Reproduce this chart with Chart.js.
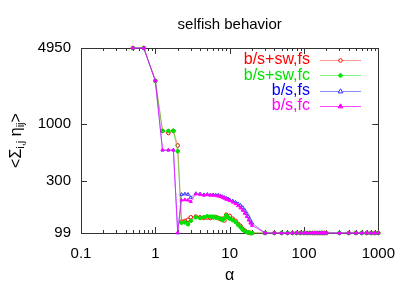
<!DOCTYPE html>
<html><head><meta charset="utf-8">
<script src="https://cdn.jsdelivr.net/npm/chart.js@4/dist/chart.umd.min.js"></script>
<style>html,body{margin:0;padding:0;background:#fff;overflow:hidden}#wrap{width:407px;height:285px;position:relative}</style>
</head><body><div id="wrap"><canvas id="c"></canvas></div>
<script>
const alphaValues = [0.5,0.7,1,1.25,1.5,1.75,2,2.25,2.5,2.75,3,3.5,4,4.5,5,5.5,6,6.5,7,7.5,8,8.5,9,9.5,10,11,12,13,14,15,16,17,18,19,20,30,40,50,60,70,80,90,100,110,120,130,140,150,160,170,180,190,200,300,400,500,600,700,800,900,1000];
const tail = [99,99,99,99,99,99,99,99,99,99,99,99,99,99,99,99,99,99,99,99,99,99,99,99,99,99];
const bsswFs = [4950,4950,2475,858,820,858,630,126,128,131,138,140,138,136,137,136,138,139,136,133,134,129,146,140,142,134,128,120,115,108,104,101,100,99,99].concat(tail);
const bsswFc = [4950,4950,2475,858,858,858,557,123,124,119,128,138,136,138,141,140,140,137,136,134,130,135,144,138,134,130,125,118,112,106,103,101,100,99,99].concat(tail);
const bsFs = [4950,4950,2475,572,572,572,99,224,226,224,210,228,226,222,224,222,222,220,220,218,214,210,207,204,200,195,190,184,178,170,160,150,140,130,122].concat(tail);
const bsFc = [4950,4950,2475,572,572,572,100,198,200,198,192,226,224,220,222,220,220,218,216,214,210,206,202,200,196,190,184,176,168,160,150,140,130,122,116].concat(tail);
const seriesLabels = ['b/s+sw,fs','b/s+sw,fc','b/s,fs','b/s,fc'];
const xTickValues = [0.1,1,10,100,1000];
const yTickValues = [99,300,1000,4950];
const chartTitle = 'selfish behavior';
const xAxisLabel = 'α';

const toPts = arr => alphaValues.map((x,i)=>({x:x,y:arr[i]}));
const seriesStyles = [
  {line:'rgba(255,60,60,0.55)', mark:'#ff0000', text:'#ff0000', style:'circle', fill:'#ffffff', order:3},
  {line:'rgba(0,230,0,0.5)', mark:'#00e000', text:'#00e000', style:'circle', fill:'#00e000', order:2},
  {line:'rgba(60,60,255,0.6)', mark:'#3030ff', text:'#0000ff', style:'triangle', fill:'#ffffff', order:1},
  {line:'rgba(255,0,255,0.7)', mark:'#ff00ff', text:'#ff00ff', style:'triangle', fill:'#ff00ff', order:0}
];
const seriesData = [bsswFs, bsswFc, bsFs, bsFc];
const datasets = seriesData.map((arr,i)=>({
  label: seriesLabels[i], data: toPts(arr),
  borderColor: seriesStyles[i].line, borderWidth: 1,
  pointStyle: seriesStyles[i].style, pointRadius: 1.8,
  pointBorderColor: seriesStyles[i].mark, pointBackgroundColor: seriesStyles[i].fill,
  pointBorderWidth: 1, order: seriesStyles[i].order, tension: 0, clip: false
}));

function drawMarker(ctx, style, x, y, r, stroke, fill){
  ctx.save(); ctx.beginPath();
  if(style==='circle'){ ctx.arc(x,y,r,0,Math.PI*2); }
  else { const s=r*1.5; ctx.moveTo(x,y-s); ctx.lineTo(x+s*0.866,y+s*0.5); ctx.lineTo(x-s*0.866,y+s*0.5); ctx.closePath(); }
  ctx.fillStyle=fill; ctx.fill(); ctx.strokeStyle=stroke; ctx.lineWidth=1; ctx.stroke(); ctx.restore();
}

const decorPlugin = {
  id:'decor',
  beforeDatasetsDraw(chart){
    const ctx = chart.ctx, a = chart.chartArea, xs = chart.scales.x, ys = chart.scales.y;
    ctx.save();
    ctx.strokeStyle='#333'; ctx.lineWidth=1;
    ctx.beginPath();
    for(let d=-1; d<3; d++){
      for(let m=1; m<10; m++){
        const v = m*Math.pow(10,d);
        const px = Math.round(xs.getPixelForValue(v))+0.5;
        const len = (m===1)?6:3;
        ctx.moveTo(px,a.bottom); ctx.lineTo(px,a.bottom-len);
        ctx.moveTo(px,a.top); ctx.lineTo(px,a.top+len);
      }
    }
    yTickValues.forEach(v=>{
      const py = Math.round(ys.getPixelForValue(v))+0.5;
      ctx.moveTo(a.left,py); ctx.lineTo(a.left+6,py);
      ctx.moveTo(a.right,py); ctx.lineTo(a.right-6,py);
    });
    ctx.stroke();
    ctx.strokeRect(Math.round(a.left)+0.5, Math.round(a.top)+0.5, Math.round(a.right-a.left), Math.round(a.bottom-a.top));
    ctx.restore();
  },
  afterDraw(chart){
    const ctx = chart.ctx, a = chart.chartArea;
    ctx.save();
    ctx.fillStyle='#000'; ctx.textAlign='center'; ctx.textBaseline='middle';
    ctx.font='15px "Liberation Sans", Arial, sans-serif';
    ctx.fillText(chartTitle, (a.left+a.right)/2, 25);
    ctx.font='16px "Liberation Sans", Arial, sans-serif';
    ctx.fillText(xAxisLabel, (a.left+a.right)/2, 276);
    ctx.save();
    ctx.translate(17, (a.top+a.bottom)/2);
    ctx.rotate(-Math.PI/2);
    const big='16px "Liberation Sans", Arial, sans-serif', small='11px "Liberation Sans", Arial, sans-serif';
    const parts=[['<Σ',big,0],['i,j',small,4],[' η',big,0],['ij',small,4],['>',big,0]];
    let w=0; parts.forEach(p=>{ctx.font=p[1]; w+=ctx.measureText(p[0]).width;});
    let cx=-w/2; ctx.textAlign='left';
    parts.forEach(p=>{ctx.font=p[1]; ctx.fillText(p[0],cx,p[2]); cx+=ctx.measureText(p[0]).width;});
    ctx.restore();
    ctx.font='16px "Liberation Sans", Arial, sans-serif';
    ctx.textAlign='right'; ctx.textBaseline='middle';
    seriesLabels.forEach((lab,i)=>{
      const y = 60 + i*15.3;
      const st = seriesStyles[i];
      ctx.fillStyle = st.text; ctx.fillText(lab, 310, y);
      ctx.beginPath(); ctx.strokeStyle=st.line; ctx.lineWidth=1;
      ctx.moveTo(320, Math.round(y)+0.5); ctx.lineTo(361, Math.round(y)+0.5); ctx.stroke();
      drawMarker(ctx, st.style, 340.5, Math.round(y)+0.5, 1.8, st.mark, st.fill);
    });
    ctx.restore();
  }
};

new Chart(document.getElementById('c'), {
  type:'line',
  data:{datasets: datasets},
  options:{
    responsive:true, maintainAspectRatio:false, animation:false, devicePixelRatio:1,
    layout:{padding:{top:48,right:27,bottom:0,left:0}},
    plugins:{legend:{display:false}, title:{display:false}, tooltip:{enabled:false}},
    scales:{
      x:{type:'logarithmic', min:0.1, max:1000,
         afterBuildTicks: s=>{ s.ticks = xTickValues.map(v=>({value:v})); },
         afterFit: s=>{ s.height = 52; },
         grid:{display:false, drawTicks:false}, border:{display:false},
         ticks:{autoSkip:false, maxRotation:0, padding:12, color:'#000',
           font:{family:'"Liberation Sans", Arial, sans-serif', size:15},
           callback:(v)=> String(v)}},
      y:{type:'logarithmic', min:99, max:4950,
         afterBuildTicks: s=>{ s.ticks = yTickValues.map(v=>({value:v})); },
         afterFit: s=>{ s.width = 81; },
         grid:{display:false, drawTicks:false}, border:{display:false},
         ticks:{autoSkip:false, padding:10, color:'#000',
           font:{family:'"Liberation Sans", Arial, sans-serif', size:15},
           callback:(v)=> String(v)}}
    }
  },
  plugins:[decorPlugin]
});
</script></body></html>
